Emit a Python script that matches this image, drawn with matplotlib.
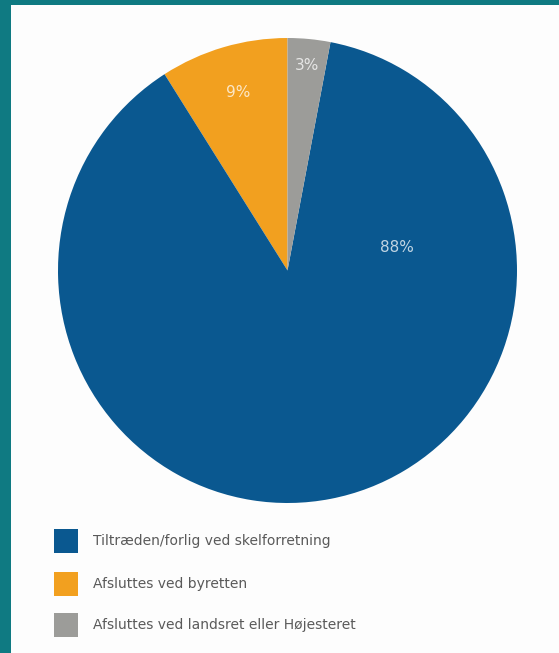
import matplotlib.pyplot as plt
from matplotlib.patches import Rectangle

# Shares of cases by how they end (percent)
categories = [
    "Afsluttes ved byretten",
    "Tiltræden/forlig ved skelforretning",
    "Afsluttes ved landsret eller Højesteret",
]
shares = [9, 88, 3]
pct_labels = ["9%", "88%", "3%"]

legend_order = [1, 0, 2]

colors = ["#f2a01f", "#0a5890", "#9c9c99"]
teal = "#0f7a82"
panel = "#fdfdfd"

W, H = 559, 653
fig = plt.figure(figsize=(W / 100, H / 100), dpi=100)
fig.patch.set_facecolor(teal)

# white panel, leaving a teal strip on the left and top
fig.add_artist(Rectangle((11 / W, 0), 1, 1 - 5 / H, transform=fig.transFigure,
                         facecolor=panel, edgecolor="none", zorder=0))

# pie box in pixels: x 58..517, y 38..503
ax = fig.add_axes([58 / W, (H - 503) / H, 459 / W, 465 / H])
ax.pie(shares, colors=colors, startangle=90, counterclock=True,
       radius=1, wedgeprops=dict(linewidth=0))
ax.set_aspect("auto")
ax.set_xlim(-1, 1)
ax.set_ylim(-1, 1)
ax.axis("off")

font = ["Liberation Sans Narrow", "DejaVu Sans"]

# percentage labels placed inside the wedges
label_pos = [(-0.215, 0.765), (0.478, 0.097), (0.083, 0.88)]
for (x, y), txt in zip(label_pos, pct_labels):
    ax.text(x, y, txt, ha="center", va="center", fontsize=11,
            color="white", alpha=0.75, family=font)

# legend: colour square plus label
legend_y = [541, 584, 625]
for y, idx in zip(legend_y, legend_order):
    fig.add_artist(Rectangle((54 / W, (H - y - 12) / H), 24 / W, 24 / H,
                             transform=fig.transFigure,
                             facecolor=colors[idx], edgecolor="none"))
    fig.text(93 / W, (H - y) / H, categories[idx], ha="left", va="center",
             fontsize=10, color="#5a5a5a", family=font)

fig.savefig("out.png", dpi=100, facecolor=fig.get_facecolor())
